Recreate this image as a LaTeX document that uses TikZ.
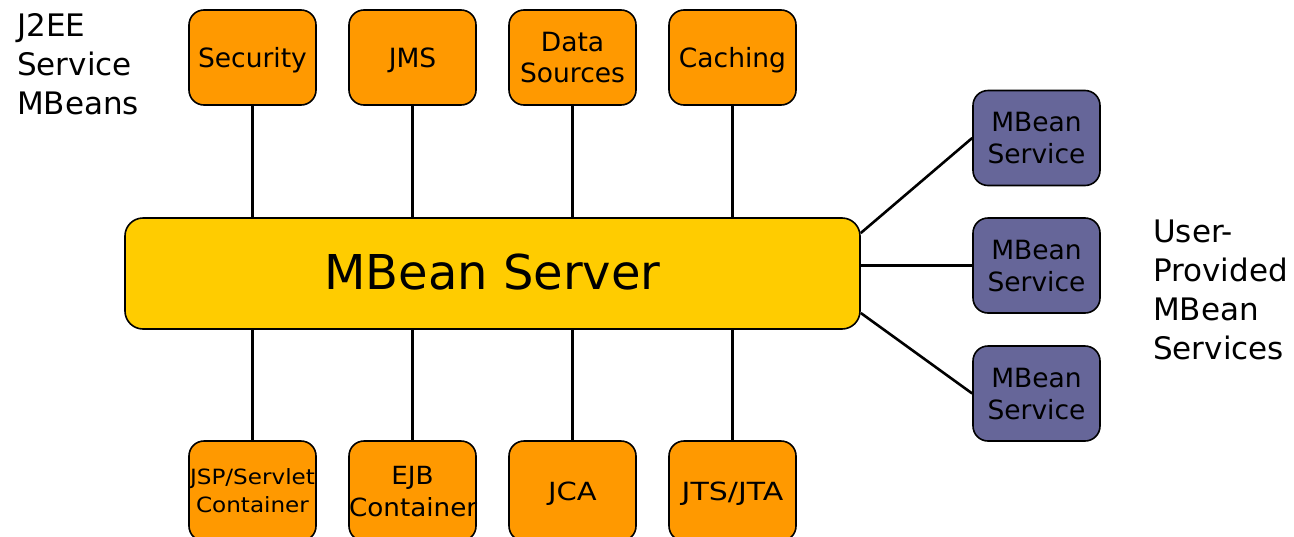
\documentclass[tikz,border=0pt]{standalone}
\usepackage{fontspec}
\setmainfont{DejaVu Sans}
\usetikzlibrary{backgrounds}
\definecolor{svcorange}{HTML}{FF9900}
\definecolor{srvyellow}{HTML}{FFCC00}
\definecolor{userpurple}{HTML}{666699}
% slightly widened lettering used in the lower row
\newcommand{\widetext}[2][1.12]{\scalebox{#1}[1]{#2}}
\tikzset{
  jbox/.style={draw=black, line width=1.6pt, rounded corners=15pt,
    minimum width=127pt, minimum height=95pt, text width=127pt,
    inner sep=0pt, align=center, font=\fontsize{26.5}{31}\selectfont,
    text height=19.3pt, text depth=0pt},
  twolines/.style={text depth=#1},
  twolines/.default=31pt,
  j2ee/.style={jbox, fill=svcorange},
  lower/.style={j2ee, minimum height=100pt},
  ubox/.style={jbox, fill=userpurple},
  serverbox/.style={draw=black, line width=1.6pt, rounded corners=18pt,
    fill=srvyellow, minimum width=735pt, minimum height=111pt,
    inner sep=0pt, font=\fontsize{48}{56}\selectfont,
    text height=35pt, text depth=4pt},
  grouplabel/.style={anchor=north west, inner sep=0pt, align=left,
    font=\fontsize{31}{39}\selectfont},
  link/.style={draw=black, line width=2.6pt}
}
\begin{document}
\begin{tikzpicture}[x=1pt,y=-1pt]
  \useasboundingbox (0,0) rectangle (1294,536);
  \clip (0,0) rectangle (1294,536);

  % central server
  \node[serverbox] (server) at (492.5,273.5) {MBean Server};

  % J2EE service MBeans above
  \node[j2ee] (sec)    at (252.5,57.5) {Security};
  \node[j2ee] (jms)    at (412.5,57.5) {JMS};
  \node[j2ee, twolines] (ds) at (572.5,57.5) {Data\\Sources};
  \node[j2ee] (cache)  at (732.5,57.5) {Caching};

  % J2EE service MBeans below
  \node[lower, font=\fontsize{21}{28}\selectfont, text height=15.3pt, twolines=28pt]
    (jsp) at (252.5,491) {\widetext[1.1]{JSP/Servlet}\\\widetext[1.1]{Container}};
  \node[lower, font=\fontsize{25}{32}\selectfont, text height=18.3pt, twolines=32pt]
    (ejb) at (412.5,491) {\widetext[1.05]{EJB}\\\widetext[1.05]{Container}};
  \node[lower, font=\fontsize{25}{32}\selectfont, text height=18.3pt]
    (jca) at (572.5,491) {\widetext[1.16]{JCA}};
  \node[lower, font=\fontsize{25}{32}\selectfont, text height=18.3pt]
    (jts) at (732.5,491) {\widetext[1.2]{JTS/JTA}};

  % user-provided services on the right
  \node[ubox, font=\fontsize{26.5}{32}\selectfont, twolines=32pt] (svc1) at (1036.5,138)   {MBean\\Service};
  \node[ubox, font=\fontsize{26.5}{32}\selectfont, twolines=32pt] (svc2) at (1036.5,265.5) {MBean\\Service};
  \node[ubox, font=\fontsize{26.5}{32}\selectfont, twolines=32pt] (svc3) at (1036.5,393.5) {MBean\\Service};

  % group captions
  \node[grouplabel] (j2eelabel) at (17,13) {J2EE\\Service\\MBeans};
  \node[grouplabel] (userlabel) at (1153,220) {User-\\Provided\\MBean\\Services};

  % connectors, kept behind the boxes
  \begin{scope}[on background layer]
    \foreach \b in {sec,jms,ds,cache}
      \draw[link] (\b.south) -- (\b.south |- server.north);
    \foreach \b in {jsp,ejb,jca,jts}
      \draw[link] (\b.north) -- (\b.north |- server.south);
    \draw[link] ([yshift=40.5pt]server.east) -- (svc1.west);
    \draw[link] ([yshift=8pt]server.east) -- (svc2.west);
    \draw[link] ([yshift=-39.5pt]server.east) -- (svc3.west);
  \end{scope}
\end{tikzpicture}
\end{document}
